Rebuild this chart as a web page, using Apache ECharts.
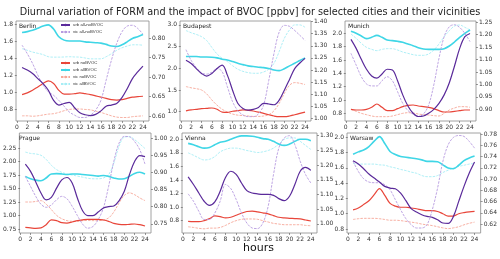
<!DOCTYPE html>
<html><head><meta charset="utf-8">
<script src="https://cdn.jsdelivr.net/npm/echarts@6/dist/echarts.min.js"></script>
<style>html,body{margin:0;padding:0;background:#fff}#c{width:500px;height:259px}</style>
</head><body><div id="c"></div>
<script>
const hours = [1,2,3,4,5,6,7,8,9,10,11,12,13,14,15,16,17,18,19,20,21,22,23,24];
const cities = ["Berlin","Budapest","Munich","Prague","Vienna","Warsaw"];
const xTicks = [0,2,4,6,8,10,12,14,16,18,20,22,24];

// Berlin
const berlin_urbAll = [1.70,1.71,1.725,1.75,1.775,1.79,1.74,1.65,1.61,1.60,1.60,1.60,1.59,1.585,1.58,1.575,1.56,1.54,1.535,1.555,1.59,1.63,1.65,1.675];
const berlin_vicAll = [1.51,1.49,1.47,1.455,1.44,1.415,1.41,1.41,1.412,1.415,1.412,1.41,1.40,1.39,1.39,1.39,1.415,1.45,1.49,1.52,1.54,1.555,1.555,1.55];
const berlin_urbNo = [0.97,0.99,1.02,1.06,1.10,1.13,1.10,1.02,0.975,0.975,0.98,0.99,0.98,0.97,0.955,0.94,0.925,0.91,0.905,0.91,0.925,0.94,0.945,0.95];
const berlin_vicNo = [0.72,0.72,0.715,0.72,0.73,0.74,0.745,0.76,0.78,0.795,0.80,0.80,0.795,0.79,0.775,0.76,0.74,0.72,0.705,0.70,0.70,0.71,0.715,0.72];
const berlin_urbDiff = [0.7245,0.718,0.709,0.696,0.683,0.666,0.640,0.628,0.632,0.635,0.621,0.608,0.603,0.601,0.604,0.613,0.625,0.628,0.632,0.647,0.670,0.696,0.713,0.728];
const berlin_vicDiff = [0.782,0.76,0.735,0.705,0.679,0.662,0.653,0.640,0.625,0.610,0.602,0.596,0.596,0.602,0.615,0.640,0.692,0.743,0.786,0.816,0.831,0.833,0.825,0.810];
// Budapest
const budapest_urbAll = [2.27,2.27,2.27,2.26,2.26,2.255,2.24,2.21,2.19,2.155,2.115,2.085,2.055,2.04,2.025,2.015,1.995,1.96,1.945,1.99,2.055,2.115,2.18,2.24];
const budapest_vicAll = [2.87,2.82,2.78,2.73,2.64,2.48,2.33,2.23,2.155,2.06,1.98,1.93,1.90,1.885,1.885,1.915,1.98,2.115,2.385,2.69,2.885,3.00,3.00,2.945];
const budapest_urbNo = [1.02,1.04,1.055,1.07,1.075,1.085,1.055,0.99,0.985,1.01,1.025,1.04,1.03,1.015,0.99,0.96,0.93,0.90,0.885,0.885,0.90,0.93,0.96,0.99];
const budapest_vicNo = [1.58,1.55,1.53,1.50,1.41,1.27,1.15,1.055,0.99,0.945,0.92,0.91,0.90,0.89,0.89,0.90,0.93,1.02,1.19,1.42,1.61,1.67,1.655,1.625];
const budapest_urbDiff = [1.240,1.227,1.206,1.186,1.175,1.186,1.206,1.220,1.179,1.117,1.063,1.042,1.035,1.038,1.046,1.063,1.060,1.057,1.076,1.117,1.161,1.206,1.229,1.248];
const budapest_vicDiff = [1.284,1.240,1.210,1.188,1.183,1.191,1.206,1.193,1.131,1.070,1.033,1.015,1.008,1.008,1.019,1.056,1.158,1.268,1.356,1.384,1.380,1.363,1.343,1.322];
// Munich
const munich_urbAll = [2.03,2.0,1.96,1.92,1.94,1.97,1.94,1.90,1.89,1.88,1.865,1.84,1.815,1.785,1.765,1.76,1.76,1.76,1.77,1.81,1.87,1.94,2.0,2.05];
const munich_vicAll = [1.99,1.925,1.85,1.79,1.76,1.74,1.76,1.77,1.77,1.75,1.72,1.70,1.68,1.67,1.67,1.69,1.75,1.84,1.95,2.04,2.11,2.125,2.09,2.05];
const munich_urbNo = [0.86,0.85,0.85,0.86,0.89,0.94,0.89,0.84,0.84,0.87,0.90,0.92,0.925,0.91,0.90,0.89,0.87,0.84,0.82,0.82,0.83,0.84,0.85,0.85];
const munich_vicNo = [0.86,0.83,0.80,0.78,0.76,0.75,0.75,0.75,0.76,0.78,0.80,0.81,0.805,0.79,0.78,0.775,0.765,0.76,0.80,0.85,0.88,0.90,0.90,0.89];
const munich_urbDiff = [1.181,1.145,1.101,1.061,1.034,1.025,1.042,1.061,1.058,1.015,0.958,0.913,0.884,0.871,0.873,0.884,0.900,0.924,0.958,1.007,1.074,1.145,1.192,1.205];
const munich_vicDiff = [1.125,1.078,1.031,1.002,0.994,0.994,1.015,1.031,1.015,0.971,0.924,0.895,0.881,0.871,0.881,0.917,0.998,1.105,1.192,1.232,1.240,1.229,1.205,1.172];
// Prague
const prague_urbAll = [1.725,1.68,1.655,1.645,1.695,1.77,1.775,1.77,1.76,1.77,1.77,1.76,1.75,1.74,1.73,1.74,1.725,1.695,1.675,1.68,1.725,1.78,1.80,1.77];
const prague_vicAll = [2.175,2.15,2.14,2.115,2.04,1.93,1.85,1.80,1.77,1.75,1.73,1.71,1.69,1.68,1.68,1.695,1.755,1.97,2.28,2.45,2.46,2.405,2.325,2.24];
const prague_urbNo = [0.78,0.77,0.762,0.77,0.83,0.92,0.905,0.867,0.86,0.88,0.905,0.92,0.93,0.93,0.93,0.917,0.892,0.855,0.836,0.83,0.836,0.843,0.83,0.806];
const prague_vicNo = [1.25,1.25,1.26,1.275,1.21,1.11,1.003,0.94,0.905,0.892,0.892,0.905,0.91,0.905,0.905,0.917,0.954,1.065,1.23,1.37,1.42,1.385,1.325,1.275];
const prague_urbDiff = [0.924,0.903,0.872,0.840,0.820,0.827,0.854,0.878,0.885,0.869,0.825,0.788,0.774,0.774,0.784,0.796,0.800,0.802,0.817,0.844,0.893,0.932,0.949,0.946];
const prague_vicDiff = [0.888,0.859,0.830,0.807,0.798,0.805,0.820,0.830,0.823,0.801,0.774,0.749,0.737,0.742,0.762,0.796,0.859,0.932,0.985,1.005,1.004,0.990,0.966,0.924];
// Vienna
const vienna_urbAll = [1.94,1.92,1.89,1.87,1.88,1.92,1.955,1.97,2.0,2.03,2.05,2.05,2.045,2.03,2.01,2.0,1.97,1.93,1.91,1.93,1.97,2.0,2.0,1.98];
const vienna_vicAll = [1.80,1.765,1.725,1.695,1.705,1.745,1.815,1.85,1.87,1.87,1.855,1.835,1.82,1.805,1.815,1.835,1.87,1.93,2.0,2.02,2.02,1.97,1.91,1.85];
const vienna_urbNo = [0.79,0.785,0.785,0.80,0.83,0.87,0.86,0.84,0.85,0.88,0.91,0.935,0.94,0.93,0.915,0.90,0.875,0.85,0.84,0.835,0.83,0.825,0.81,0.795];
const vienna_vicNo = [0.71,0.70,0.687,0.68,0.69,0.69,0.70,0.73,0.77,0.80,0.82,0.825,0.825,0.82,0.80,0.78,0.76,0.75,0.74,0.74,0.74,0.74,0.73,0.725];
const vienna_urbDiff = [1.160,1.134,1.105,1.077,1.063,1.075,1.111,1.158,1.179,1.168,1.139,1.113,1.105,1.102,1.100,1.100,1.097,1.086,1.079,1.094,1.134,1.179,1.192,1.182];
const vienna_vicDiff = [1.102,1.077,1.043,1.015,1.015,1.037,1.077,1.134,1.120,1.083,1.037,1.003,0.986,0.984,1.003,1.060,1.168,1.258,1.292,1.300,1.269,1.213,1.168,1.139];
// Warsaw
const warsaw_urbAll = [1.78,1.81,1.835,1.88,1.95,2.01,1.92,1.815,1.775,1.75,1.74,1.73,1.72,1.705,1.685,1.685,1.68,1.64,1.60,1.59,1.635,1.695,1.73,1.755];
const warsaw_vicAll = [1.66,1.65,1.65,1.65,1.65,1.64,1.635,1.615,1.60,1.58,1.565,1.545,1.53,1.50,1.485,1.485,1.50,1.54,1.57,1.60,1.62,1.635,1.65,1.66];
const warsaw_urbNo = [1.05,1.075,1.12,1.17,1.25,1.33,1.24,1.135,1.10,1.085,1.085,1.075,1.065,1.05,1.04,1.04,1.03,1.00,0.97,0.97,1.00,1.015,1.025,1.03];
const warsaw_vicNo = [0.925,0.935,0.94,0.94,0.94,0.935,0.925,0.915,0.915,0.91,0.90,0.89,0.88,0.865,0.855,0.845,0.83,0.815,0.805,0.815,0.83,0.855,0.875,0.89];
const warsaw_urbDiff = [0.7326,0.7267,0.7184,0.7089,0.7018,0.6947,0.687,0.684,0.6828,0.6751,0.6615,0.6473,0.6413,0.6366,0.6336,0.6319,0.6277,0.6218,0.6212,0.6336,0.6603,0.687,0.7107,0.7302];
const warsaw_vicDiff = [0.7314,0.7136,0.7006,0.6947,0.6935,0.6935,0.6899,0.681,0.6633,0.6455,0.6295,0.6188,0.6129,0.6129,0.6188,0.6455,0.684,0.7314,0.761,0.7741,0.7776,0.7759,0.767,0.7551];

// tick labels per panel
const leftTicks = [
  [0.8,1.0,1.2,1.4,1.6,1.8],
  [1.0,1.5,2.0,2.5,3.0],
  [0.8,1.0,1.2,1.4,1.6,1.8,2.0],
  [0.75,1.00,1.25,1.50,1.75,2.00,2.25],
  [0.8,1.0,1.2,1.4,1.6,1.8,2.0],
  [0.8,1.0,1.2,1.4,1.6,1.8,2.0]
];
const rightTicks = [
  [0.60,0.65,0.70,0.75,0.80],
  [1.00,1.05,1.10,1.15,1.20,1.25,1.30,1.35,1.40],
  [0.85,0.90,0.95,1.00,1.05,1.10,1.15,1.20,1.25],
  [0.75,0.80,0.85,0.90,0.95,1.00],
  [1.00,1.05,1.10,1.15,1.20,1.25,1.30],
  [0.62,0.64,0.66,0.68,0.70,0.72,0.74,0.76,0.78]
];
const leftDec = [1,1,1,2,1,1];

const data = {
  Berlin:[berlin_urbAll,berlin_vicAll,berlin_urbNo,berlin_vicNo,berlin_urbDiff,berlin_vicDiff],
  Budapest:[budapest_urbAll,budapest_vicAll,budapest_urbNo,budapest_vicNo,budapest_urbDiff,budapest_vicDiff],
  Munich:[munich_urbAll,munich_vicAll,munich_urbNo,munich_vicNo,munich_urbDiff,munich_vicDiff],
  Prague:[prague_urbAll,prague_vicAll,prague_urbNo,prague_vicNo,prague_urbDiff,prague_vicDiff],
  Vienna:[vienna_urbAll,vienna_vicAll,vienna_urbNo,vienna_vicNo,vienna_urbDiff,vienna_vicDiff],
  Warsaw:[warsaw_urbAll,warsaw_vicAll,warsaw_urbNo,warsaw_vicNo,warsaw_urbDiff,warsaw_vicDiff]
};

// layout (pixels)
const boxes = [
  {l:16,t:21,w:133,h:100},{l:180,t:21,w:131,h:100},{l:345,t:21,w:131,h:100},
  {l:16,t:133,w:135,h:100},{l:182,t:133,w:135,h:100},{l:347,t:133,w:135,h:100}
];
const leftRange = [[0.659,1.835],[0.785,3.09],[0.685,2.185],[0.676,2.528],[0.618,2.093],[0.748,2.057]];
const rightRange = [[0.587,0.844],[0.99,1.402],[0.853,1.255],[0.723,1.015],[0.969,1.309],[0.604,0.782]];

const names = ["urb allBVOC","vic allBVOC","urb noBVOC","vic noBVOC","urb all-noBVOC","vic all-noBVOC"];
const styles = [
  {color:'#3fd6e6',width:1.6,type:'solid',z:3},
  {color:'#a6edf5',width:0.9,type:[2.5,1.2],z:2},
  {color:'#e8463a',width:1.2,type:'solid',z:3},
  {color:'#f6a798',width:0.9,type:[2.5,1.2],z:2},
  {color:'#5a2a9a',width:1.2,type:'solid',z:5},
  {color:'#b79be0',width:0.9,type:[2.5,1.2],z:4}
];

const lab = {fontSize:6,color:'#333',fontFamily:'DejaVu Sans'};
const grid=[],xAxis=[],yAxis=[],series=[],graphic=[];
cities.forEach((c,i)=>{
  const b=boxes[i];
  grid.push({left:b.l,top:b.t,width:b.w,height:b.h,show:true,borderColor:'#8a8a8a',borderWidth:0.8,backgroundColor:'transparent'});
  xAxis.push({type:'value',gridIndex:i,min:-0.15,max:25.15,
    axisLine:{show:false},splitLine:{show:false},
    axisTick:{show:true,length:2,lineStyle:{color:'#555',width:0.6},customValues:xTicks},
    axisLabel:Object.assign({margin:3,customValues:xTicks,formatter:v=>String(v)},lab)});
  yAxis.push({type:'value',gridIndex:i,position:'left',min:leftRange[i][0],max:leftRange[i][1],
    axisLine:{show:false},splitLine:{show:false},
    axisTick:{show:true,length:2,lineStyle:{color:'#555',width:0.6},customValues:leftTicks[i]},
    axisLabel:Object.assign({margin:3,customValues:leftTicks[i],formatter:v=>v.toFixed(leftDec[i])},lab)});
  yAxis.push({type:'value',gridIndex:i,position:'right',min:rightRange[i][0],max:rightRange[i][1],
    axisLine:{show:false},splitLine:{show:false},
    axisTick:{show:true,length:2,lineStyle:{color:'#555',width:0.6},customValues:rightTicks[i]},
    axisLabel:Object.assign({margin:3,customValues:rightTicks[i],formatter:v=>v.toFixed(2)},lab)});
  data[c].forEach((arr,k)=>{
    const s=styles[k];
    series.push({type:'line',name:names[k],xAxisIndex:i,yAxisIndex:k>=4?2*i+1:2*i,
      data:hours.map((h,j)=>[h,arr[j]]),symbol:'none',smooth:0.35,z:s.z,
      lineStyle:{color:s.color,width:s.width,type:s.type},itemStyle:{color:s.color},silent:true});
  });
  graphic.push({type:'text',left:b.l+3,top:b.t+2,style:{text:c,fontSize:6,fill:'#222',fontFamily:'DejaVu Sans'}});
});

const chart = echarts.init(document.getElementById('c'),null,{renderer:'canvas'});
chart.setOption({
  animation:false,
  title:{text:'Diurnal variation of FORM and the impact of BVOC [ppbv] for selected cities and their vicinities',
    left:'center',top:2,textStyle:{fontSize:9.7,fontWeight:'normal',color:'#222',fontFamily:'DejaVu Sans'}},
  legend:[
    {data:["urb all-noBVOC","vic all-noBVOC"],left:60,top:23,orient:'vertical',itemWidth:9,itemHeight:3,itemGap:3,
      textStyle:{fontSize:4.3,color:'#333',padding:[0,0,0,-2]},padding:0,selectedMode:false},
    {data:["urb noBVOC","urb allBVOC","vic noBVOC","vic allBVOC"],left:60,top:61,orient:'vertical',itemWidth:9,itemHeight:3,itemGap:3,
      textStyle:{fontSize:4.3,color:'#333',padding:[0,0,0,-2]},padding:0,selectedMode:false}
  ],
  grid,xAxis,yAxis,series,
  graphic:graphic.concat([{type:'text',left:243,top:243,style:{text:'hours',fontSize:11,fill:'#111',fontFamily:'DejaVu Sans'}}])
});
</script></body></html>
